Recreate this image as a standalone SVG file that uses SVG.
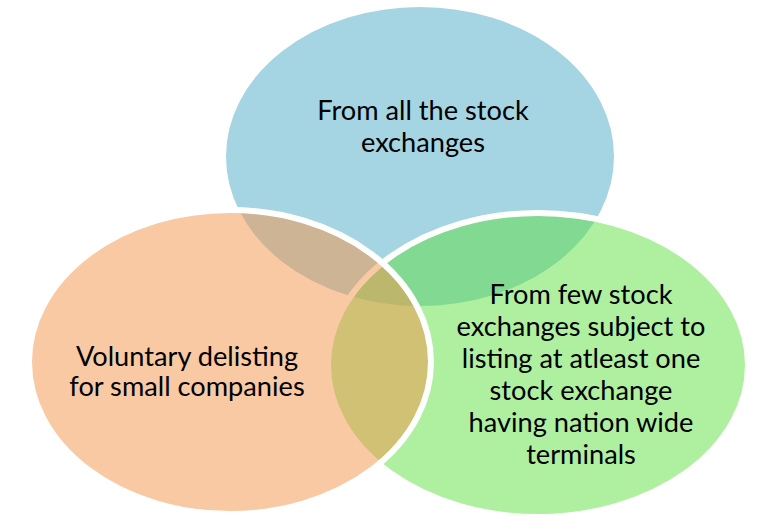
<svg xmlns="http://www.w3.org/2000/svg" width="758" height="515" viewBox="0 0 758 515">
<style>
.c{stroke:#fff;stroke-width:6;fill-opacity:0.5}
.t{font-family:Lato,"Liberation Sans",sans-serif;font-size:27.2px;fill:#000;text-anchor:middle}
</style>
<rect width="758" height="515" fill="#fff"/>
<g id="node-all-exchanges">
<ellipse class="c" cx="420" cy="156.5" rx="197" ry="152.5" fill="#4BA9C5"/>
<text class="t" x="423" y="120">From all the stock</text>
<text class="t" x="423" y="152">exchanges</text>
</g>
<g id="node-few-exchanges">
<ellipse class="c" cx="538" cy="365" rx="210" ry="152" fill="#5FDF41"/>
<text class="t" x="581" y="304">From few stock</text>
<text class="t" x="581" y="336">exchanges subject to</text>
<text class="t" x="581" y="368">listing at atleast one</text>
<text class="t" x="581" y="400">stock exchange</text>
<text class="t" x="581" y="432">having nation wide</text>
<text class="t" x="581" y="464">terminals</text>
</g>
<g id="node-voluntary">
<ellipse class="c" cx="230" cy="362" rx="201" ry="152" fill="#F39347"/>
<text class="t" x="187" y="366">Voluntary delisting</text>
<text class="t" x="187" y="396">for small companies</text>
</g>
</svg>
